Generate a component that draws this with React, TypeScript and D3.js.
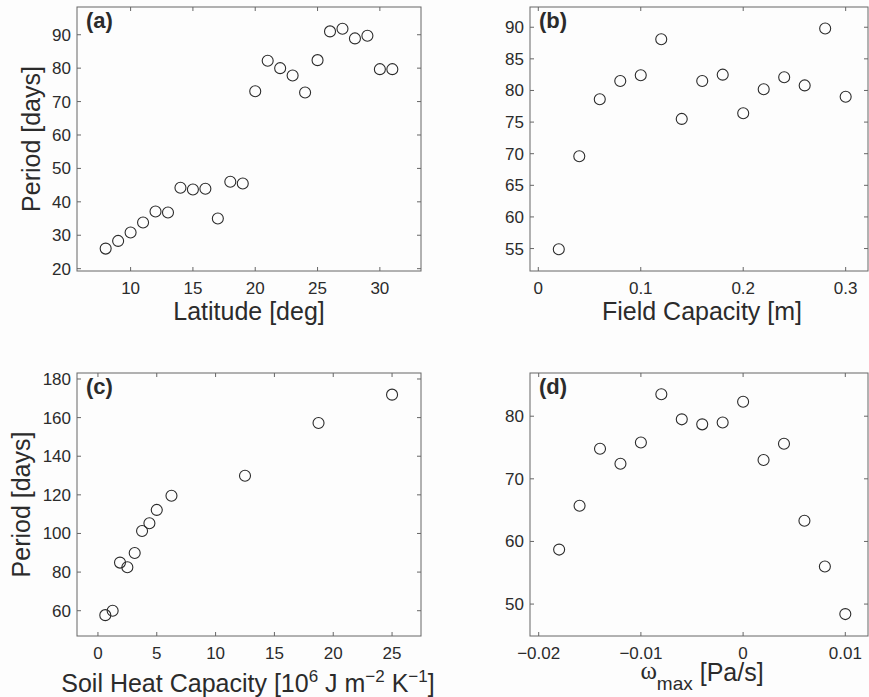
import React from 'react'
import * as d3 from 'd3'

// panel (a)
const latX = [8, 9, 10, 11, 12, 13, 14, 15, 16, 17, 18, 19, 20, 21, 22, 23, 24, 25, 26, 27, 28, 29, 30, 31]
const latY = [26, 28.3, 30.8, 33.8, 37.1, 36.8, 44.2, 43.7, 43.9, 35, 46, 45.5, 73.1, 82.2, 80, 77.8, 72.7, 82.4, 91, 91.8, 88.9, 89.7, 79.7, 79.7]
const latXTicks = [10, 15, 20, 25, 30]
const latYTicks = [20, 30, 40, 50, 60, 70, 80, 90]

// panel (b)
const fcX = [0.02, 0.04, 0.06, 0.08, 0.1, 0.12, 0.14, 0.16, 0.18, 0.2, 0.22, 0.24, 0.26, 0.28, 0.3]
const fcY = [54.9, 69.6, 78.6, 81.5, 82.4, 88.1, 75.5, 81.5, 82.5, 76.4, 80.2, 82.1, 80.8, 89.8, 79]
const fcXTicks = [0, 0.1, 0.2, 0.3]
const fcYTicks = [55, 60, 65, 70, 75, 80, 85, 90]

// panel (c)
const shcX = [0.625, 1.25, 1.875, 2.5, 3.125, 3.75, 4.375, 5, 6.25, 12.5, 18.75, 25]
const shcY = [57.7, 60, 84.9, 82.5, 89.9, 101.3, 105.3, 112.2, 119.5, 129.9, 157.2, 171.9]
const shcXTicks = [0, 5, 10, 15, 20, 25]
const shcYTicks = [60, 80, 100, 120, 140, 160, 180]

// panel (d)
const omX = [-0.018, -0.016, -0.014, -0.012, -0.01, -0.008, -0.006, -0.004, -0.002, 0, 0.002, 0.004, 0.006, 0.008, 0.01]
const omY = [58.7, 65.7, 74.8, 72.4, 75.8, 83.5, 79.5, 78.7, 79.0, 82.3, 73.0, 75.6, 63.3, 56.0, 48.4]
const omXTicks = [-0.02, -0.01, 0, 0.01]
const omYTicks = [50, 60, 70, 80]

const FONT = '"Liberation Sans", Arial, Helvetica, sans-serif'
const INK = '#2b2b2b'
const AXIS = '#666'

const fmt = (v: number) => (v < 0 ? '\u2212' + String(-v) : String(v))

type PanelProps = {
  box: [number, number, number, number] // left, top, right, bottom
  xDomain: [number, number]
  yDomain: [number, number]
  xs: number[]
  ys: number[]
  xTicks: number[]
  yTicks: number[]
  tag: string
  xLabel: React.ReactNode
  yLabel?: string
  yLabelX?: number
}

const Panel = ({ box, xDomain, yDomain, xs, ys, xTicks, yTicks, tag, xLabel, yLabel, yLabelX }: PanelProps) => {
  const [l, t, r, b] = box
  const x = d3.scaleLinear().domain(xDomain).range([l, r])
  const y = d3.scaleLinear().domain(yDomain).range([b, t])
  const tl = 4
  return (
    <g>
      <rect x={l} y={t} width={r - l} height={b - t} fill="none" stroke={AXIS} strokeWidth={1} />
      {xTicks.map((v) => (
        <g key={'x' + v}>
          <line x1={x(v)} x2={x(v)} y1={b} y2={b - tl} stroke={AXIS} />
          <line x1={x(v)} x2={x(v)} y1={t} y2={t + tl} stroke={AXIS} />
          <text x={x(v)} y={b + 23} textAnchor="middle" fontSize={17} fill={INK}>{fmt(v)}</text>
        </g>
      ))}
      {yTicks.map((v) => (
        <g key={'y' + v}>
          <line x1={l} x2={l + tl} y1={y(v)} y2={y(v)} stroke={AXIS} />
          <line x1={r} x2={r - tl} y1={y(v)} y2={y(v)} stroke={AXIS} />
          <text x={l - 6} y={y(v) + 6} textAnchor="end" fontSize={17} fill={INK}>{fmt(v)}</text>
        </g>
      ))}
      {xs.map((v, i) => (
        <circle key={i} cx={x(v)} cy={y(ys[i])} r={5.5} fill="none" stroke={INK} strokeWidth={1.1} />
      ))}
      <text x={l + 9} y={t + 21} fontSize={22} fontWeight="bold" fill={INK}>{tag}</text>
      {xLabel}
      {yLabel && (
        <text transform={`translate(${yLabelX},${(t + b) / 2}) rotate(-90)`} textAnchor="middle" fontSize={25} fill={INK}>
          {yLabel}
        </text>
      )}
    </g>
  )
}

const App = () => {
  const W = 869
  const H = 697
  return (
    <svg width={W} height={H} style={{ position: 'absolute', left: 0, top: 0, background: '#fdfdfd' }} fontFamily={FONT}>
      <Panel
        box={[77, 7, 421, 271]}
        xDomain={[5.7, 33.3]}
        yDomain={[19.3, 98.3]}
        xs={latX}
        ys={latY}
        xTicks={latXTicks}
        yTicks={latYTicks}
        tag="(a)"
        yLabel="Period [days]"
        yLabelX={40}
        xLabel={<text x={249} y={320} textAnchor="middle" fontSize={25} fill={INK}>Latitude [deg]</text>}
      />
      <Panel
        box={[530, 7, 868, 271]}
        xDomain={[-0.0081, 0.3218]}
        yDomain={[51.45, 93.2]}
        xs={fcX}
        ys={fcY}
        xTicks={fcXTicks}
        yTicks={fcYTicks}
        tag="(b)"
        xLabel={<text x={702} y={320} textAnchor="middle" fontSize={25} fill={INK}>Field Capacity [m]</text>}
      />
      <Panel
        box={[77, 373, 421, 636]}
        xDomain={[-1.78, 27.46]}
        yDomain={[46.9, 183.1]}
        xs={shcX}
        ys={shcY}
        xTicks={shcXTicks}
        yTicks={shcYTicks}
        tag="(c)"
        yLabel="Period [days]"
        yLabelX={30}
        xLabel={
          <text x={248} y={692} textAnchor="middle" fontSize={25} fill={INK}>
            Soil Heat Capacity [10
            <tspan fontSize={17} dy={-10}>6</tspan>
            <tspan dy={10}> J m</tspan>
            <tspan fontSize={17} dy={-10}>{'\u2212'}2</tspan>
            <tspan dy={10}> K</tspan>
            <tspan fontSize={17} dy={-10}>{'\u2212'}1</tspan>
            <tspan dy={10}>]</tspan>
          </text>
        }
      />
      <Panel
        box={[530, 373, 868, 636]}
        xDomain={[-0.02085, 0.01222]}
        yDomain={[44.9, 86.9]}
        xs={omX}
        ys={omY}
        xTicks={omXTicks}
        yTicks={omYTicks}
        tag="(d)"
        xLabel={
          <text x={702} y={681} textAnchor="middle" fontSize={25} fill={INK}>
            <tspan fontFamily='"Liberation Serif", "DejaVu Serif", serif' dy={-2}>{'\u03c9'}</tspan>
            <tspan fontSize={19} dy={11}>max</tspan>
            <tspan dy={-9}> [Pa/s]</tspan>
          </text>
        }
      />
    </svg>
  )
}

export default App
